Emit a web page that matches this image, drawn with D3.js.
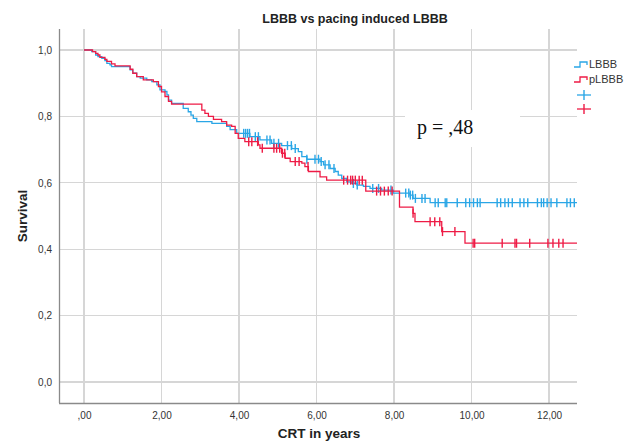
<!DOCTYPE html>
<html>
<head>
<meta charset="utf-8">
<script src="https://cdn.jsdelivr.net/npm/d3@7"></script>
<style>
html,body{margin:0;padding:0;background:#fff;}
svg{display:block;font-family:Arial,"Liberation Sans",sans-serif;}
</style>
</head>
<body>
<svg id="chart" width="640" height="442"></svg>
<script>
// ---- data ----
const seriesNames = ["LBBB", "pLBBB"];
const lbbbTimes = [0.20,0.30,0.36,0.46,0.54,0.59,0.67,0.71,1.19,1.26,1.36,1.45,1.62,1.75,1.88,1.96,2.09,2.14,2.18,2.26,2.56,2.69,2.76,2.82,2.91,3.30,3.68,3.77,3.94,4.28,4.54,4.84,5.10,5.36,5.53,5.62,5.75,6.09,6.18,6.35,6.48,6.56,6.65,6.78,6.91,7.04,7.21,7.38,7.68,7.98,8.41,8.49,8.93];
const lbbbSurv  = [0.995,0.985,0.98,0.975,0.968,0.96,0.955,0.95,0.94,0.93,0.92,0.915,0.91,0.905,0.895,0.88,0.875,0.865,0.849,0.839,0.824,0.814,0.804,0.794,0.784,0.779,0.77,0.76,0.749,0.739,0.729,0.719,0.712,0.703,0.694,0.679,0.671,0.664,0.654,0.643,0.634,0.623,0.613,0.603,0.598,0.593,0.589,0.583,0.578,0.569,0.563,0.553,0.540];
const lbbbCensor = [4.12,4.17,4.22,4.27,4.42,4.50,4.72,4.80,4.90,5.02,5.25,5.35,5.45,5.75,5.96,6.05,6.12,6.22,6.32,6.45,6.95,7.05,7.45,7.60,7.92,8.30,8.38,8.42,8.48,8.55,8.72,8.80,9.06,9.14,9.32,9.36,9.63,9.85,9.95,10.05,10.15,10.22,10.66,10.75,10.86,10.95,11.05,11.25,11.35,11.45,11.70,11.80,11.86,11.95,12.05,12.20,12.46,12.55,12.65];
const plbbbTimes = [0.22,0.30,0.36,0.41,0.54,0.59,0.71,0.80,1.19,1.26,1.36,1.53,1.79,1.92,2.00,2.09,2.18,2.26,3.04,3.12,3.21,3.34,3.55,3.68,3.81,3.90,3.98,4.15,4.50,4.54,5.10,5.19,5.32,5.62,5.70,5.79,6.09,6.26,7.27,8.14,8.49,8.54,9.23,9.83];
const plbbbSurv  = [0.995,0.99,0.985,0.978,0.972,0.966,0.958,0.952,0.942,0.93,0.92,0.91,0.905,0.89,0.874,0.86,0.845,0.837,0.819,0.809,0.80,0.791,0.784,0.774,0.77,0.749,0.734,0.724,0.714,0.704,0.689,0.674,0.664,0.659,0.649,0.634,0.618,0.608,0.575,0.527,0.508,0.483,0.453,0.418];
const plbbbCensor = [4.25,4.33,4.48,4.60,4.90,4.97,5.05,5.12,5.18,5.45,5.55,5.78,6.70,6.80,6.88,6.93,7.00,7.10,7.18,7.55,7.65,7.75,7.85,7.95,8.49,8.93,9.05,9.18,9.25,9.57,10.04,10.08,10.79,11.12,11.16,11.50,11.97,12.10,12.25,12.36];
const xTickValues = [0,2,4,6,8,10,12];
const xTickLabels = [",00","2,00","4,00","6,00","8,00","10,00","12,00"];
const yTickValues = [0,0.2,0.4,0.6,0.8,1.0];
const yTickLabels = ["0,0","0,2","0,4","0,6","0,8","1,0"];
const titleText = "LBBB vs pacing induced LBBB";
const xLabel = "CRT in years";
const yLabel = "Survival";
const pText = "p = ,48";
const tEnd = 12.72;

// ---- layout ----
const svg = d3.select("#chart");
const L = 59, R = 577, T = 29, B = 403;
const x = d3.scaleLinear().domain([-0.645, 12.72]).range([L, R]);
const y = d3.scaleLinear().domain([0, 1]).range([382, 50]);
const colors = {LBBB: "#2aa6e6", pLBBB: "#ee1b45"};
const grid = "#d6d6d6";

// gridlines
svg.append("g").selectAll("line").data(yTickValues).join("line")
  .attr("x1", L).attr("x2", R).attr("y1", d => y(d)).attr("y2", d => y(d))
  .attr("stroke", grid).attr("stroke-width", 1.3).attr("shape-rendering","crispEdges");
svg.append("g").selectAll("line").data(xTickValues).join("line")
  .attr("x1", d => x(d)).attr("x2", d => x(d)).attr("y1", T).attr("y2", B)
  .attr("stroke", grid).attr("stroke-width", 1.3).attr("shape-rendering","crispEdges");

// axes
const xAxis = d3.axisBottom(x).tickValues(xTickValues).tickFormat((d,i) => xTickLabels[i]).tickSize(0).tickPadding(9);
const yAxis = d3.axisLeft(y).tickValues(yTickValues).tickFormat((d,i) => yTickLabels[i]).tickSize(0).tickPadding(7);
const gx = svg.append("g").attr("transform", `translate(0,${B})`).call(xAxis);
const gy = svg.append("g").attr("transform", `translate(${L},0)`).call(yAxis);
[gx, gy].forEach(g => {
  g.select(".domain").attr("stroke", "#8a8a8a").attr("stroke-width", 1.3);
  g.selectAll("text").attr("font-size", 10).attr("fill", "#333").attr("font-family", "Arial, 'Liberation Sans', sans-serif");
});
gx.select(".domain").attr("d", `M${L},0.5H${R}`);
gy.select(".domain").attr("d", `M0.5,${T}V${B}`);

// p-value box
svg.append("rect").attr("x", 405).attr("y", 110).attr("width", 115).attr("height", 37).attr("fill", "#fff");
svg.append("text").attr("x", 417).attr("y", 134).attr("font-family", "'Liberation Serif','Times New Roman',serif")
  .attr("font-size", 20).attr("fill", "#111").text(pText);

// curves
function stepValue(times, surv, t) {
  let v = 1;
  for (let i = 0; i < times.length; i++) { if (times[i] <= t) v = surv[i]; else break; }
  return v;
}
const line = d3.line().x(d => x(d[0])).y(d => y(d[1])).curve(d3.curveStepAfter);
const series = [
  {name: "LBBB", times: lbbbTimes, surv: lbbbSurv, censor: lbbbCensor},
  {name: "pLBBB", times: plbbbTimes, surv: plbbbSurv, censor: plbbbCensor}
];
series.forEach(s => {
  const pts = [[0, 1]].concat(s.times.map((t, i) => [t, s.surv[i]]));
  pts.push([tEnd, s.surv[s.surv.length - 1]]);
  svg.append("path").attr("d", line(pts)).attr("fill", "none")
    .attr("stroke", colors[s.name]).attr("stroke-width", 1.3);
  svg.append("g").selectAll("line").data(s.censor).join("line")
    .attr("x1", d => x(d)).attr("x2", d => x(d))
    .attr("y1", d => y(stepValue(s.times, s.surv, d)) - 4.5)
    .attr("y2", d => y(stepValue(s.times, s.surv, d)) + 4.5)
    .attr("stroke", colors[s.name]).attr("stroke-width", 1.4);
});

// legend
const lg = svg.append("g");
seriesNames.forEach((n, i) => {
  const yy = 67 + i * 15;
  lg.append("path").attr("d", `M574,${yy}H580V${yy-5}H587V${yy-2}`).attr("fill","none")
    .attr("stroke", colors[n]).attr("stroke-width", 1.3);
  lg.append("text").attr("x", 589).attr("y", yy + 1).attr("font-size", 11).attr("fill", "#333").text(n);
});
seriesNames.forEach((n, i) => {
  const yy = 95 + i * 14;
  lg.append("line").attr("x1", 577).attr("x2", 591).attr("y1", yy).attr("y2", yy).attr("stroke", colors[n]).attr("stroke-width", 1.3);
  lg.append("line").attr("x1", 584).attr("x2", 584).attr("y1", yy - 5).attr("y2", yy + 5).attr("stroke", colors[n]).attr("stroke-width", 1.4);
});

// titles
svg.append("text").attr("x", 355).attr("y", 23).attr("text-anchor", "middle")
  .attr("font-size", 12.5).attr("font-weight", "bold").attr("fill", "#222").text(titleText);
svg.append("text").attr("x", 319).attr("y", 438).attr("text-anchor", "middle")
  .attr("font-size", 13.5).attr("font-weight", "bold").attr("fill", "#222").text(xLabel);
svg.append("text").attr("transform", "translate(27,216) rotate(-90)").attr("text-anchor", "middle")
  .attr("font-size", 13.5).attr("font-weight", "bold").attr("fill", "#222").text(yLabel);
</script>
</body>
</html>
